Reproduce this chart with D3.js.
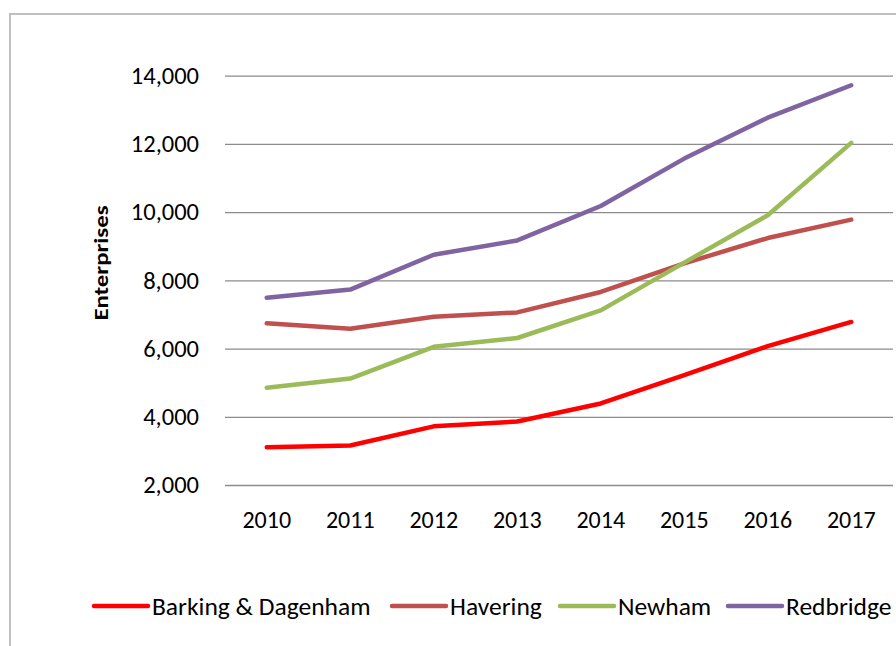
<!DOCTYPE html>
<html>
<head>
<meta charset="utf-8">
<script src="https://cdn.jsdelivr.net/npm/d3@7"></script>
<style>
  html, body { margin: 0; padding: 0; background: #fff; }
  svg { display: block; font-family: Carlito, Calibri, Lato, "Open Sans", sans-serif; }
</style>
</head>
<body>
<svg id="chart" width="896" height="646"></svg>
<script>
// Enterprise counts by borough, 2010-2017
const years = ["2010", "2011", "2012", "2013", "2014", "2015", "2016", "2017"];
const barkingDagenham = [3110, 3160, 3720, 3860, 4390, 5220, 6070, 6780];
const havering        = [6740, 6580, 6930, 7060, 7660, 8500, 9240, 9780];
const newham          = [4850, 5120, 6050, 6310, 7120, 8520, 9910, 12030];
const redbridge       = [7490, 7730, 8750, 9170, 10180, 11570, 12770, 13720];
const yTicks = [2000, 4000, 6000, 8000, 10000, 12000, 14000];

const series = [
  { name: "Barking & Dagenham", values: barkingDagenham, color: "#FF0000" },
  { name: "Havering",           values: havering,        color: "#C0504D" },
  { name: "Newham",             values: newham,          color: "#9BBB59" },
  { name: "Redbridge",          values: redbridge,       color: "#8064A2" }
];

const FONT = "Carlito, Calibri, Lato, sans-serif";
const svg = d3.select("#chart");

// outer chart frame
svg.append("rect")
  .attr("x", 10).attr("y", 14)
  .attr("width", 920).attr("height", 660)
  .attr("fill", "#fff")
  .attr("stroke", "#BFBFBF").attr("stroke-width", 2);

const plot = { left: 225, right: 893, top: 75.7, bottom: 485 };

const x = d3.scaleBand().domain(years).range([plot.left, plot.right]);
const y = d3.scaleLinear().domain([2000, 14000]).range([plot.bottom, plot.top]);

// horizontal gridlines with value labels
const yAxis = d3.axisLeft(y).tickValues(yTicks)
  .tickSize(-(plot.right - plot.left))
  .tickFormat(d3.format(","))
  .tickPadding(26);
const gy = svg.append("g").attr("transform", `translate(${plot.left},0)`).call(yAxis);
gy.select(".domain").remove();
gy.selectAll(".tick line").attr("stroke", "#8C8C8C").attr("stroke-width", 1.3);
gy.selectAll(".tick text")
  .attr("fill", "#000").attr("font-size", 24.5)
  .attr("font-family", FONT);

// category labels
const xAxis = d3.axisBottom(x).tickSize(0).tickPadding(26);
const gx = svg.append("g").attr("transform", `translate(0,${plot.bottom})`).call(xAxis);
gx.select(".domain").remove();
gx.selectAll(".tick text")
  .attr("fill", "#000").attr("font-size", 24)
  .attr("font-family", FONT);

// axis title
svg.append("text")
  .attr("transform", "translate(108,263) rotate(-90) scale(1.18,1)")
  .attr("text-anchor", "middle")
  .attr("font-size", 21).attr("font-weight", "bold")
  .text("Enterprises");

// series lines
const line = d3.line()
  .x((d, i) => x(years[i]) + x.bandwidth() / 2)
  .y(d => y(d));

svg.append("g").selectAll("path")
  .data(series)
  .join("path")
  .attr("d", s => line(s.values))
  .attr("fill", "none")
  .attr("stroke", s => s.color)
  .attr("stroke-width", 4.5)
  .attr("stroke-linejoin", "round")
  .attr("stroke-linecap", "round");

// legend
const legendX = [94, 392, 560, 728];
const lg = svg.append("g").selectAll("g")
  .data(series)
  .join("g")
  .attr("transform", (s, i) => `translate(${legendX[i]},606)`);
lg.append("line")
  .attr("x1", 0).attr("x2", 54).attr("y1", 0).attr("y2", 0)
  .attr("stroke", s => s.color).attr("stroke-width", 4.5)
  .attr("stroke-linecap", "round");
lg.append("text")
  .attr("x", 58).attr("dy", "0.35em")
  .attr("font-size", 25.5)
  .attr("font-family", FONT)
  .text(s => s.name);
</script>
</body>
</html>
